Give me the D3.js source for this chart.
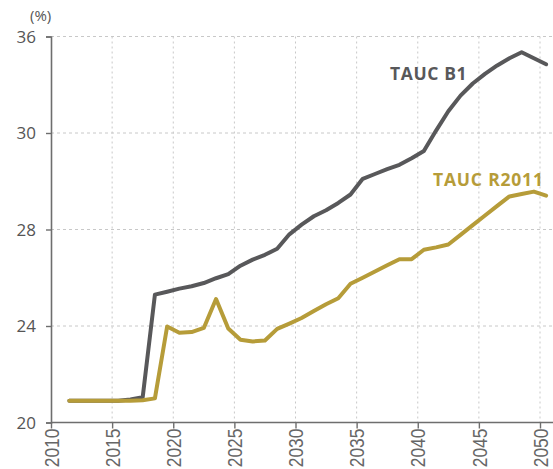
<!DOCTYPE html>
<html>
<head>
<meta charset="utf-8">
<script src="https://cdn.jsdelivr.net/npm/d3@7"></script>
<style>
  html, body { margin: 0; padding: 0; background: #fff; }
  svg { display: block; }
</style>
</head>
<body>
<svg id="chart" width="553" height="469"></svg>
<script>
// Years plotted (each value sits mid-year)
const years = d3.range(2011, 2051);

// TAUC B1 scenario (%)
const taucB1 = [
  20.9, 20.9, 20.9, 20.9, 20.9, 20.95, 21.05, 25.3, 25.42, 25.55,
  25.65, 25.78, 25.98, 26.15, 26.5, 26.75, 26.95, 27.2, 27.8, 28.2,
  28.55, 28.8, 29.1, 29.45, 30.1, 30.3, 30.5, 30.68, 30.95, 31.25,
  32.1, 32.9, 33.55, 34.05, 34.45, 34.8, 35.1, 35.35, 35.1, 34.85
];

// TAUC R2011 scenario (%)
const taucR2011 = [
  20.9, 20.9, 20.9, 20.9, 20.9, 20.9, 20.92, 21.0, 23.98, 23.72,
  23.75, 23.92, 25.12, 23.9, 23.43, 23.36, 23.4, 23.88, 24.1, 24.33,
  24.62, 24.9, 25.15, 25.75, 26.0, 26.26, 26.52, 26.77, 26.77, 27.16,
  27.26, 27.38, 27.78, 28.18, 28.58, 28.98, 29.37, 29.47, 29.57, 29.4
];

const xTicks = [2010, 2015, 2020, 2025, 2030, 2035, 2040, 2045, 2050];
const yTicks = [20, 24, 28, 32, 36];
const yTickLabels = ["20", "24", "28", "30", "36"];

const seriesNames = ["TAUC B1", "TAUC R2011"];
const seriesColors = ["#58585a", "#b69c39"];

const svg = d3.select("#chart");
const W = 553;

const x = d3.scaleLinear().domain([2010, 2050]).range([51, 540]);
const y = d3.scaleLinear().domain([20, 36]).range([422.5, 36.5]);

// Grid
const grid = svg.append("g");
grid.selectAll("line.h").data(yTicks.slice(1)).join("line")
  .attr("x1", x(2010)).attr("x2", W)
  .attr("y1", d => y(d)).attr("y2", d => y(d))
  .attr("stroke", "#c8c8c8").attr("stroke-width", 1)
  .attr("stroke-dasharray", "3,3");
grid.selectAll("line.v").data(xTicks.slice(1)).join("line")
  .attr("x1", d => x(d)).attr("x2", d => x(d))
  .attr("y1", y(36)).attr("y2", y(20))
  .attr("stroke", "#c8c8c8").attr("stroke-width", 1)
  .attr("stroke-dasharray", "2,3");

// Y axis
const yAxis = d3.axisLeft(y).tickValues(yTicks)
  .tickFormat((d, i) => yTickLabels[i]).tickSize(5).tickPadding(10);
const gy = svg.append("g").attr("transform", `translate(${x(2010)},0)`).call(yAxis);
gy.select(".domain").attr("stroke", "#6e6e6e").attr("stroke-width", 1.6);
gy.selectAll(".tick line").attr("stroke", "#6e6e6e").attr("stroke-width", 1.4);
gy.selectAll(".tick text")
  .attr("fill", "#555").attr("font-family", "'Open Sans', sans-serif")
  .attr("font-size", 17).attr("dy", "0.35em");

// X axis (narrow, rotated year labels)
const xAxis = d3.axisBottom(x).tickValues(xTicks).tickFormat(d3.format("d"))
  .tickSize(6).tickSizeOuter(0);
const gx = svg.append("g").attr("transform", `translate(0,${y(20)})`).call(xAxis);
gx.select(".domain").attr("d", `M${x(2010)},0H${W}`)
  .attr("stroke", "#6e6e6e").attr("stroke-width", 1.6);
gx.selectAll(".tick line").attr("stroke", "#6e6e6e").attr("stroke-width", 1.4);
gx.selectAll(".tick text")
  .attr("fill", "#666").attr("font-family", "'Liberation Sans', Arial, sans-serif")
  .attr("font-size", 20)
  .attr("transform", "rotate(-90) scale(0.87,1)")
  .attr("text-anchor", "end")
  .attr("x", -7).attr("y", 0).attr("dy", "0.36em");

// Unit label
svg.append("text").attr("x", 30).attr("y", 21)
  .attr("font-family", "'Open Sans', sans-serif").attr("font-size", 15)
  .attr("fill", "#555").text("(%)");

// Lines
const line = d3.line().x((d, i) => x(years[i] + 0.5)).y(d => y(d));
[taucB1, taucR2011].forEach((vals, k) => {
  svg.append("path").datum(vals)
    .attr("d", line)
    .attr("fill", "none")
    .attr("stroke", seriesColors[k])
    .attr("stroke-width", 4)
    .attr("stroke-linejoin", "round")
    .attr("stroke-linecap", "round");
});

// Series labels
svg.append("text").attr("x", 390).attr("y", 80)
  .attr("font-family", "'Open Sans', sans-serif").attr("font-weight", 700)
  .attr("font-size", 17.5).attr("letter-spacing", 0.6)
  .attr("fill", seriesColors[0]).text(seriesNames[0]);
svg.append("text").attr("x", 433).attr("y", 186)
  .attr("font-family", "'Open Sans', sans-serif").attr("font-weight", 700)
  .attr("font-size", 17.5).attr("letter-spacing", 0.8)
  .attr("fill", seriesColors[1]).text(seriesNames[1]);
</script>
</body>
</html>
